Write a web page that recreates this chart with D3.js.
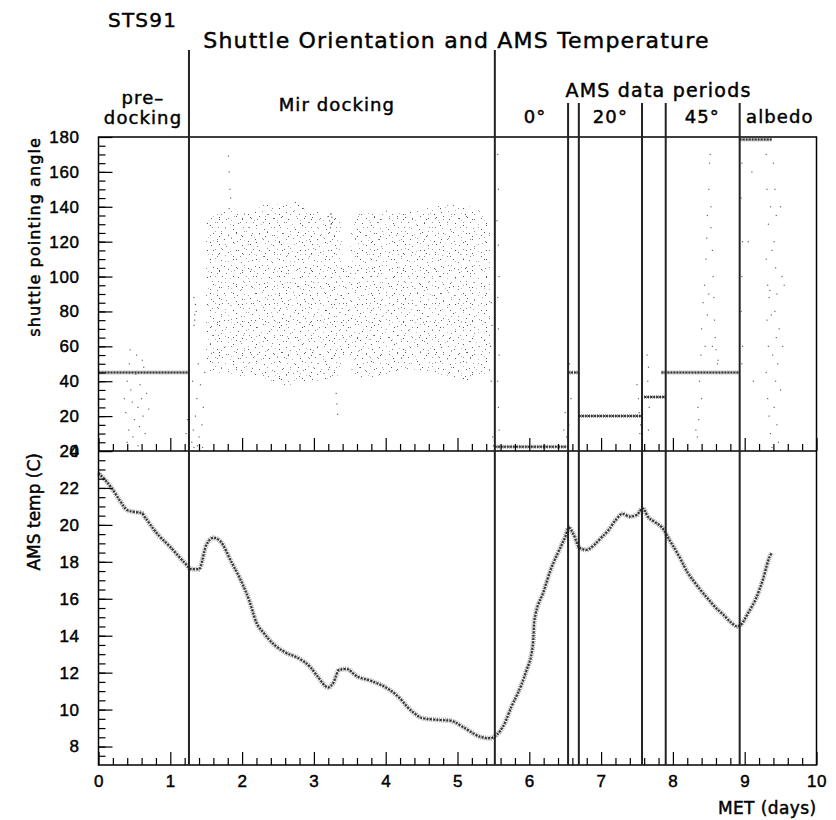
<!DOCTYPE html>
<html>
<head>
<meta charset="utf-8">
<script src="https://cdn.jsdelivr.net/npm/d3@7"></script>
<style>
  body { margin: 0; background: #fff; }
  svg { display: block; font-family: "DejaVu Sans", sans-serif; }
  svg text { fill: #000; stroke: #000; stroke-width: 0.45; }
  .tick line { stroke: #000; stroke-width: 1.2; }
  .tick text { font-size: 17px; letter-spacing: 0.6px; }
</style>
</head>
<body>
<svg id="chart" width="836" height="820"></svg>
<script>
// ---- data ----
const xTicks = [0, 1, 2, 3, 4, 5, 6, 7, 8, 9, 10];
const angleTicks = [0, 20, 40, 60, 80, 100, 120, 140, 160, 180];
const tempTicks = [8, 10, 12, 14, 16, 18, 20, 22, 24];

// period boundaries (days)
const bigBounds = [1.26, 5.52];
const smallBounds = [6.54, 6.69, 7.57, 7.9, 8.93];

// phase labels: text, centre day, row
const phaseLabels = [
  ["pre\u2013", 0.62, "a"], ["docking", 0.62, "b"],
  ["Mir docking", 3.32, "m"],
  ["AMS data periods", 7.8, "h"],
  ["0\u00b0", 6.08, "p"], ["20\u00b0", 7.13, "p"],
  ["45\u00b0", 8.41, "p"], ["albedo", 9.49, "p"]
];

// attitude holds: [from day, to day, angle]
const holds = [
  [0.0, 1.26, 45], [5.52, 6.54, 2.5], [6.54, 6.69, 45], [6.69, 7.57, 20],
  [7.6, 7.9, 31], [7.84, 8.92, 45], [8.93, 9.38, 178.5]
];

// Mir docking attitude cloud envelope
const cloudDays   = [1.5, 1.62, 1.75, 2.0, 2.15, 2.3, 2.6, 2.75, 2.9, 3.1, 3.3, 3.37, 3.4, 3.5, 3.53, 3.7, 3.85, 4.0, 4.3, 4.6, 4.9, 5.2, 5.35, 5.45];
const cloudTop    = [131, 135, 137, 138, 136, 142, 141, 143, 139, 137, 135, 133, 108, 108, 134, 138, 135, 138, 137, 140, 141, 140, 137, 130];
const cloudBottom = [46, 44, 46, 42, 44, 42, 37, 39, 38, 41, 42, 42, 55, 55, 45, 41, 43, 44, 47, 45, 43, 40, 44, 42];

// isolated angle readings [day, angle]
const sparsePts = [
  [0.36,30],[0.38,22],[0.40,40],[0.42,12],[0.43,50],[0.45,35],[0.47,28],[0.48,8],[0.50,18],
  [0.52,44],[0.53,55],[0.55,25],[0.57,14],[0.58,38],[0.60,30],[0.62,20],[0.63,48],[0.65,10],
  [0.67,33],[0.70,24],[0.40,5],[0.55,3],[0.44,58],[0.61,52],[1.22,10],[1.24,18],
  [1.30,5],[1.32,12],[1.35,20],[1.37,30],[1.40,8],[1.42,38],[1.44,15],[1.46,25],[1.48,45],
  [1.33,2],[1.38,3],[1.45,2],[1.31,40],[1.39,50],
  [1.33,72],[1.34,78],[1.35,84],[1.33,88],[1.36,80],[1.34,75],
  [1.81,169],[1.82,160],[1.83,150],[1.84,145],[1.82,139],
  [3.22,132],[3.24,130],[3.25,134],[3.23,128],[3.26,131],[3.24,136],
  [3.31,33],[3.32,27],[3.33,21],
  [5.47,85],[5.48,72],[5.46,60],[5.49,8],[5.50,3],[5.47,40],
  [5.56,170],[5.57,150],[5.55,132],[5.57,118],[5.58,100],[5.56,88],[5.57,70],[5.58,55],
  [5.56,40],[5.57,25],[5.58,12],
  [6.48,12],[6.50,22],[6.52,8],[6.56,50],[6.58,30],[6.55,15],
  [7.50,38],[7.52,30],[7.53,22],[7.55,15],[7.54,10],
  [7.64,55],[7.66,48],[7.65,40],[7.67,25],[7.66,12],
  [8.32,12],[8.35,25],[8.34,8],[8.37,40],[8.39,55],[8.40,70],[8.42,85],[8.44,95],[8.46,110],
  [8.47,122],[8.48,135],[8.50,150],[8.51,165],[8.52,170],[8.53,140],[8.55,115],[8.56,100],
  [8.57,88],[8.58,75],[8.59,65],[8.60,58],[8.62,50],[8.55,60],[8.50,90],[8.45,60],[8.40,30],
  [8.48,78],[8.53,128],[8.63,52],[8.36,18],
  [8.96,165],[8.95,145],[8.97,120],[8.96,100],[8.95,80],[8.97,60],[8.96,50],
  [9.05,120],[9.10,160],[9.12,40],
  [9.30,170],[9.31,150],[9.33,130],[9.30,110],[9.32,95],[9.35,92],[9.34,88],[9.31,75],
  [9.33,60],[9.30,45],[9.32,30],[9.34,20],[9.36,10],[9.38,2],[9.40,165],[9.42,150],
  [9.44,135],[9.41,120],[9.43,105],[9.45,90],[9.42,80],[9.44,65],[9.46,50],[9.43,40],
  [9.41,25],[9.45,15],[9.47,5],[9.50,140],[9.52,100],[9.48,70],[9.50,35],[9.55,95],
  [9.53,60],[9.36,140],[9.38,115],[9.39,55],[9.37,78]
];

// AMS temperature
const tempDays = [0, 0.1, 0.2, 0.3, 0.4, 0.5, 0.6, 0.65, 0.8, 1.0, 1.2, 1.3, 1.4, 1.5, 1.6, 1.7,
  1.85, 1.97, 2.1, 2.2, 2.3, 2.45, 2.6, 2.8, 2.95, 3.05, 3.2, 3.27, 3.35, 3.45, 3.6, 3.8, 4.0,
  4.2, 4.3, 4.4, 4.5, 4.7, 4.9, 5.1, 5.3, 5.45, 5.55, 5.65, 5.75, 5.85, 5.95, 6.05, 6.07, 6.2, 6.3,
  6.4, 6.5, 6.55, 6.62, 6.7, 6.8, 6.9, 7.0, 7.1, 7.2, 7.3, 7.4, 7.5, 7.58, 7.65, 7.75, 7.85,
  7.95, 8.1, 8.2, 8.3, 8.4, 8.5, 8.6, 8.7, 8.8, 8.9, 8.95, 9.05, 9.15, 9.25, 9.35, 9.38];
const tempC = [22.8, 22.4, 21.9, 21.3, 20.8, 20.7, 20.65, 20.4, 19.6, 18.8, 17.95, 17.6, 17.6,
  18.9, 19.3, 19.1, 18.0, 17.1, 15.9, 14.7, 14.15, 13.5, 13.1, 12.75, 12.3, 11.8, 11.2, 11.45,
  12.15, 12.2, 11.8, 11.55, 11.2, 10.6, 10.15, 9.8, 9.55, 9.45, 9.4, 9.0, 8.55, 8.45, 8.65, 9.2,
  10.15, 10.97, 12.0, 13.5, 14.8, 16.4, 17.6, 18.5, 19.35, 19.85, 19.45, 18.75, 18.65, 18.9, 19.3,
  19.7, 20.25, 20.6, 20.45, 20.55, 20.9, 20.45, 20.15, 19.85, 19.2, 18.2, 17.45, 16.9, 16.4,
  15.95, 15.5, 15.15, 14.75, 14.5, 14.6, 15.25, 15.95, 17.0, 18.3, 18.5];

// ---- layout ----
const svg = d3.select("#chart");
const left = 98.5, right = 816.5;
const topA = 137, midY = 451, botY = 765;

const x = d3.scaleLinear().domain([0, 10]).range([left, right]);
const yA = d3.scaleLinear().domain([0, 180]).range([midY, topA]);
const yT = d3.scaleLinear().domain([7, 24]).range([botY, midY]);

// speckle textures for the dense scatter
const defs = svg.append("defs");
const shades = ["#555", "#888", "#aaa", "#666", "#999", "#777", "#bbb"];
function speckle(id, w, h, dots) {
  const p = defs.append("pattern").attr("id", id)
    .attr("patternUnits", "userSpaceOnUse").attr("width", w).attr("height", h);
  dots.forEach((d, i) => p.append("rect").attr("x", d[0]).attr("y", d[1])
    .attr("width", 1).attr("height", 1).attr("fill", shades[i % shades.length]));
}
speckle("spA", 31, 27, [[2,1],[9,3],[17,0],[25,2],[29,6],[5,6],[13,8],[21,7],[1,11],[8,12],
  [16,13],[26,11],[4,17],[11,18],[19,16],[24,19],[29,15],[7,23],[14,22],[20,25],[27,24],[0,25]]);
speckle("spB", 23, 17, [[3,4],[10,1],[18,6],[6,12],[14,10],[21,14],[1,16],[12,15]]);

// cloud
const cloud = cloudDays.map((d, i) => ({d, hi: cloudTop[i], lo: cloudBottom[i]}));
const area = d3.area().x(p => x(p.d)).y0(p => yA(p.lo)).y1(p => yA(p.hi));
svg.append("path").datum(cloud).attr("d", area).attr("fill", "url(#spA)");
svg.append("path").datum(cloud).attr("d", area).attr("fill", "url(#spB)");

// holds
const holdG = svg.append("g");
holdG.selectAll("line.b").data(holds).join("line").attr("class", "b")
  .attr("x1", h => x(h[0])).attr("x2", h => x(h[1]))
  .attr("y1", h => yA(h[2])).attr("y2", h => yA(h[2]))
  .attr("stroke", "#999").attr("stroke-width", 4).attr("stroke-dasharray", "1 1");
holdG.selectAll("line.c").data(holds).join("line").attr("class", "c")
  .attr("x1", h => x(h[0])).attr("x2", h => x(h[1]))
  .attr("y1", h => yA(h[2])).attr("y2", h => yA(h[2]))
  .attr("stroke", "#333").attr("stroke-width", 2).attr("stroke-dasharray", "2 1");

// sparse points
svg.append("g").selectAll("rect").data(sparsePts).join("rect")
  .attr("x", p => x(p[0]) - 0.6).attr("y", p => yA(p[1]) - 0.6)
  .attr("width", 1.2).attr("height", 1.2).attr("fill", "#666");

// temperature
const temp = tempDays.map((d, i) => [d, tempC[i]]);
const line = d3.line().x(p => x(p[0])).y(p => yT(p[1])).curve(d3.curveMonotoneX);
svg.append("path").datum(temp).attr("d", line)
  .attr("fill", "none").attr("stroke", "#aaa").attr("stroke-width", 5)
  .attr("stroke-dasharray", "1 1");
svg.append("path").datum(temp).attr("d", line)
  .attr("fill", "none").attr("stroke", "#333").attr("stroke-width", 2.2)
  .attr("stroke-dasharray", "2 1.3");

// axes
function xAxes(y, labels) {
  svg.append("g").attr("transform", `translate(0,${y})`)
    .call(d3.axisBottom(x).tickValues(d3.range(0.2, 10, 0.2).filter(v => Math.abs(v - Math.round(v)) > 0.01))
      .tickSize(-7).tickFormat(""))
    .call(g => g.select(".domain").remove());
  svg.append("g").attr("transform", `translate(0,${y})`)
    .call(d3.axisBottom(x).tickValues(xTicks).tickSize(-13).tickPadding(10)
      .tickFormat(labels ? d3.format("d") : ""))
    .call(g => g.select(".domain").remove());
}
xAxes(midY, false);
xAxes(botY, true);

function yAxis(scale, major, minor) {
  svg.append("g").attr("transform", `translate(${left},0)`)
    .call(d3.axisLeft(scale).tickValues(minor).tickSize(-7).tickFormat(""))
    .call(g => g.select(".domain").remove());
  svg.append("g").attr("transform", `translate(${left},0)`)
    .call(d3.axisLeft(scale).tickValues(major).tickSize(-14).tickPadding(19).tickFormat(d3.format("d")))
    .call(g => g.select(".domain").remove());
}
yAxis(yA, angleTicks, d3.range(5, 180, 5));
yAxis(yT, tempTicks, d3.range(7.5, 24, 0.5));

// frames
svg.append("rect").attr("x", left).attr("y", topA).attr("width", right - left).attr("height", botY - topA)
  .attr("fill", "none").attr("stroke", "#000").attr("stroke-width", 1.5);
svg.append("line").attr("x1", left).attr("x2", right).attr("y1", midY).attr("y2", midY)
  .attr("stroke", "#000").attr("stroke-width", 1.5);

// period boundaries
svg.append("g").selectAll("line").data(bigBounds).join("line")
  .attr("x1", d => x(d)).attr("x2", d => x(d)).attr("y1", 50).attr("y2", botY)
  .attr("stroke", "#222").attr("stroke-width", 2);
svg.append("g").selectAll("line").data(smallBounds).join("line")
  .attr("x1", d => x(d)).attr("x2", d => x(d)).attr("y1", 103).attr("y2", botY)
  .attr("stroke", "#222").attr("stroke-width", 2);

// texts
const rowY = {a: 104, b: 124, m: 111, h: 97, p: 123};
svg.append("g").selectAll("text").data(phaseLabels).join("text")
  .attr("x", d => x(d[1])).attr("y", d => rowY[d[2]])
  .attr("text-anchor", "middle").attr("font-size", d => d[2] === "h" ? 19 : 18)
  .attr("letter-spacing", d => d[2] === "h" ? 1.2 : 1.1)
  .text(d => d[0]);

svg.append("text").attr("x", 108).attr("y", 27).attr("font-size", 20)
  .attr("letter-spacing", 1.2).text("STS91");
svg.append("text").attr("x", 456.5).attr("y", 48).attr("text-anchor", "middle")
  .attr("font-size", 22).attr("letter-spacing", 1.2).text("Shuttle Orientation and AMS Temperature");

svg.append("text").attr("transform", `translate(40,${topA}) rotate(-90)`)
  .attr("text-anchor", "end").attr("font-size", 16).attr("letter-spacing", 1.1)
  .text("shuttle pointing angle");
svg.append("text").attr("transform", `translate(40,${midY + 2}) rotate(-90)`)
  .attr("text-anchor", "end").attr("font-size", 17).text("AMS temp (C)");
svg.append("text").attr("x", right).attr("y", 814).attr("text-anchor", "end")
  .attr("font-size", 17).attr("letter-spacing", 0.4).text("MET (days)");
</script>
</body>
</html>
